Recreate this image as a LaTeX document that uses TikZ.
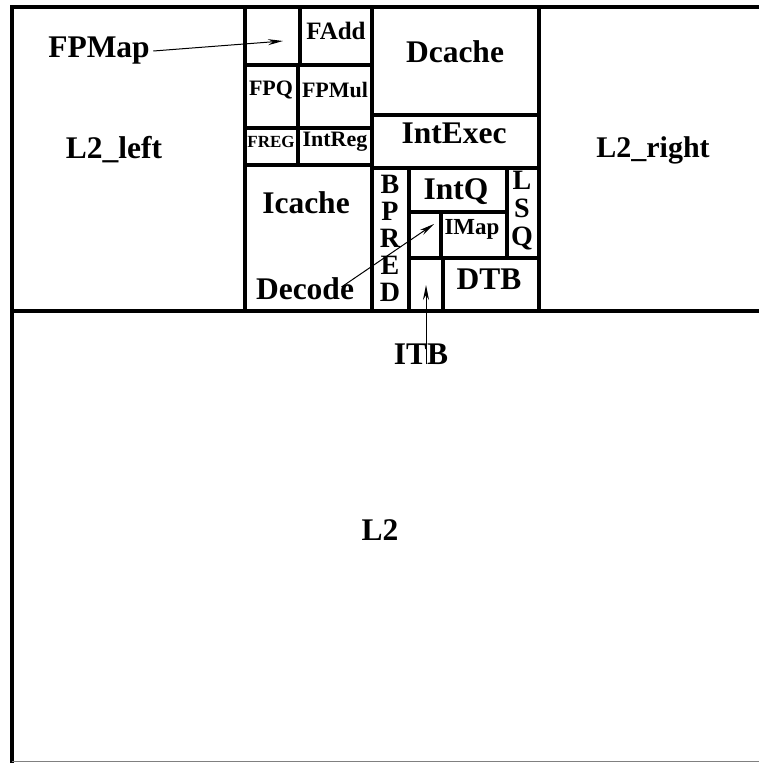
\documentclass[tikz,border=0pt]{standalone}
\usepackage{fontspec}
\setmainfont{Liberation Serif}
\usetikzlibrary{arrows.meta,calc,positioning}

\begin{document}
\begin{tikzpicture}[x=1pt,y=-1pt,>={Stealth[length=15pt,width=6pt]},
  wall/.style={line width=3.6pt,line cap=rect},
  pointer/.style={->,line width=1pt},
  big/.style={font=\fontsize{31.5}{31.5}\selectfont\bfseries},
  small/.style={font=\fontsize{22}{22}\selectfont\bfseries}]
\useasboundingbox (0,0) rectangle (759,763);
% outer frame and split into top row / L2
\draw[wall] (12,770)--(12,7)--(770,7);
\draw[gray,line width=1.5pt] (12,761.5)--(770,761.5);
\draw[wall] (12,311)--(770,311);
\foreach \x in {245,372,539} \draw[wall] (\x,7)--(\x,311);
% fp block
\draw[wall] (300,7)--(300,65);
\foreach \y in {65,128,165} \draw[wall] (245,\y)--(372,\y);
\draw[wall] (298,65)--(298,165);
% int block
\foreach \y in {115,168} \draw[wall] (372,\y)--(539,\y);
\draw[wall] (409,168)--(409,311);
\draw[wall] (507,168)--(507,258);
\draw[wall] (409,212)--(507,212);
\draw[wall] (441,212)--(441,258);
\draw[wall] (409,258)--(539,258);
\draw[wall] (443,258)--(443,311);
% labels
\node[big] (l2left) at (114,150) {L2\_left};
\node[big,font=\fontsize{30}{30}\selectfont\bfseries] (l2right) at (653,150) {L2\_right};
\node[big] (l2) at (380,530) {L2};
\node[big] (fpmap) at (99,51) {FPMap};
\node[small,font=\fontsize{25}{25}\selectfont\bfseries] (fadd) at (336,31) {FAdd};
\node[big] (dcache) at (455,52) {Dcache};
\node[small] (fpq) at (271,90) {FPQ};
\node[small] (fpmul) at (335,90) {FPMul};
\node[small,font=\fontsize{17}{17}\selectfont\bfseries] (freg) at (271,142) {FREG};
\node[small] (intreg) at (335,142) {IntReg};
\node[big] (intexec) at (454,133) {IntExec};
\node[big] (icache) at (306,203) {Icache};
\node[big] (decode) at (305,289) {Decode};
\node[big,font=\fontsize{28}{27}\selectfont\bfseries,align=center] (bpred) at (390,238) {B\\P\\R\\E\\D};
\node[big] (intq) at (456,192) {IntQ};
\node[big,font=\fontsize{28}{28}\selectfont\bfseries,align=center] (lsq) at (522,211) {L\\S\\Q};
\node[small,font=\fontsize{23}{23}\selectfont\bfseries] (imap) at (472,229) {IMap};
\node[big] (dtb) at (489,279) {DTB};
\node[big] (itb) at (421,354) {ITB};
% pointers
\coordinate (fpmaptip) at (283,41);
\coordinate (imaptip) at (434,224);
\coordinate (itbtip) at (426,285);
\draw[pointer] (fpmap.east) -- (fpmaptip);
\draw[pointer] ([xshift=-16pt,yshift=2pt]decode.east) -- (imaptip);
\draw[pointer] ([xshift=5pt,yshift=-10pt]itb.center) -- (itbtip);
\end{tikzpicture}
\end{document}
